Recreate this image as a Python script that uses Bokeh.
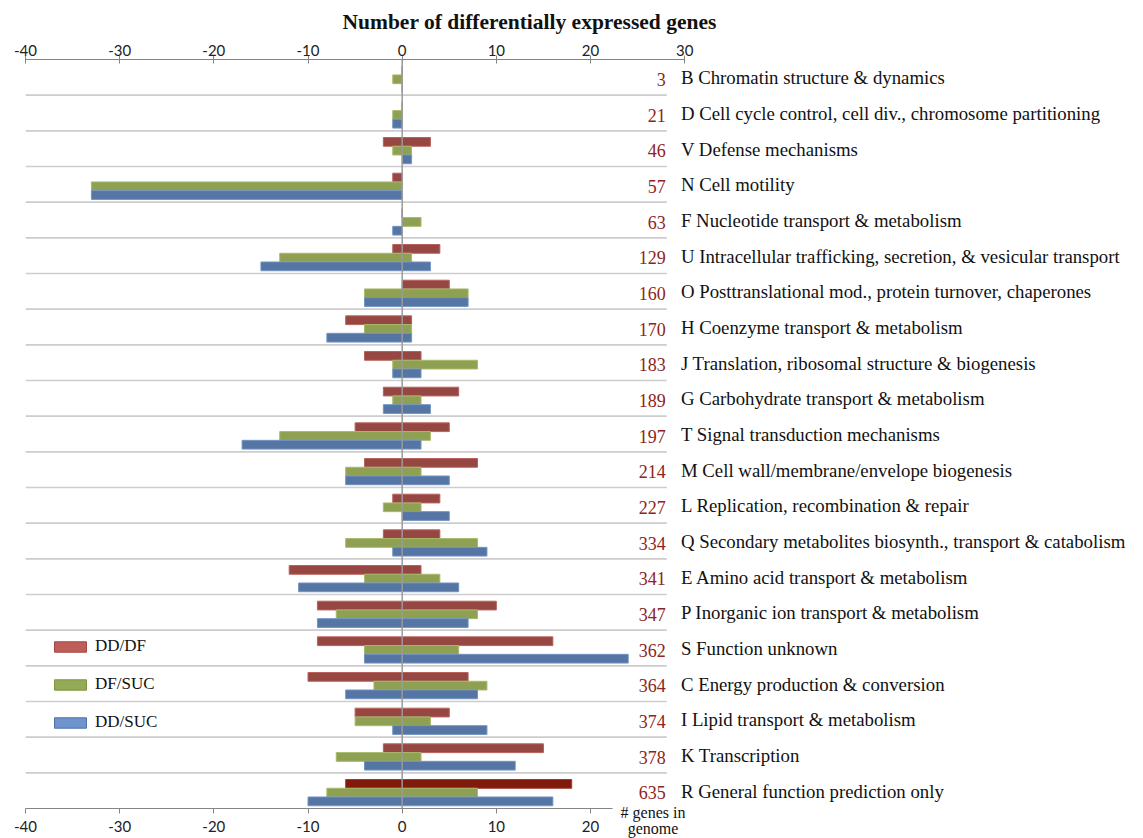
from bokeh.plotting import figure
from bokeh.layouts import column
from bokeh.models import (ColumnDataSource, FactorRange, Range1d, LinearAxis, FixedTicker,
                          Span, Legend, LegendItem, Title, Div, PrintfTickFormatter)
from bokeh.transform import dodge
from bokeh.core.properties import value
from bokeh.embed import file_html
from bokeh.resources import INLINE

# ---------------- data ----------------
codes = ["B", "D", "V", "N", "F", "U", "O", "H", "J", "G", "T",
         "M", "L", "Q", "E", "P", "S", "C", "I", "K", "R"]
names = ["Chromatin structure & dynamics",
         "Cell cycle control, cell div., chromosome partitioning",
         "Defense mechanisms",
         "Cell motility",
         "Nucleotide transport & metabolism",
         "Intracellular trafficking, secretion, & vesicular transport",
         "Posttranslational mod., protein turnover, chaperones",
         "Coenzyme transport & metabolism",
         "Translation, ribosomal structure & biogenesis",
         "Carbohydrate transport & metabolism",
         "Signal transduction mechanisms",
         "Cell wall/membrane/envelope biogenesis",
         "Replication, recombination & repair",
         "Secondary metabolites biosynth., transport & catabolism",
         "Amino acid transport & metabolism",
         "Inorganic ion transport & metabolism",
         "Function unknown",
         "Energy production & conversion",
         "Lipid transport & metabolism",
         "Transcription",
         "General function prediction only"]
genes_in_genome = [3, 21, 46, 57, 63, 129, 160, 170, 183, 189, 197,
                   214, 227, 334, 341, 347, 362, 364, 374, 378, 635]

dd_df_down = [0, 0, -2, -1, 0, -1, 0, -6, -4, -2, -5, -4, -1, -2, -12, -9, -9, -10, -5, -2, -6]
dd_df_up = [0, 0, 3, 0, 0, 4, 5, 1, 2, 6, 5, 8, 4, 4, 2, 10, 16, 7, 5, 15, 18]
df_suc_down = [-1, -1, -1, -33, 0, -13, -4, -4, -1, -1, -13, -6, -2, -6, -4, -7, -4, -3, -5, -7, -8]
df_suc_up = [0, 0, 1, 0, 2, 1, 7, 1, 8, 2, 3, 2, 2, 8, 4, 8, 6, 9, 3, 2, 8]
dd_suc_down = [0, -1, 0, -33, -1, -15, -4, -8, -1, -2, -17, -6, 0, -1, -11, -9, -4, -6, -1, -4, -10]
dd_suc_up = [0, 0, 1, 0, 0, 3, 7, 1, 2, 3, 2, 5, 5, 9, 6, 7, 24, 8, 9, 12, 16]

series_names = ["DD/DF", "DF/SUC", "DD/SUC"]
x_ticks_top = [-40, -30, -20, -10, 0, 10, 20, 30]
x_ticks_bottom = [-40, -30, -20, -10, 0, 10, 20]
highlight_code = "R"
footnote = ["# genes in", "genome"]

# ---------------- styling ----------------
bar_fill = ["#974742", "#8ea052", "#5575a5"]
bar_line = ["#b9615c", "#a9ba6c", "#7393c2"]
highlight_fill = "#7f1a0c"
legend_fill = ["#bf5d59", "#95aa56", "#6f94cd"]
legend_line = ["#a24642", "#7f9440", "#4d70a6"]
serif = "Liberation Serif"
sans = "Lato"

labels = [f"{c} {n}" for c, n in zip(codes, names)]
dd_df_colors = [highlight_fill if c == highlight_code else bar_fill[0] for c in codes]
dd_df_lines = ["#a4382c" if c == highlight_code else bar_line[0] for c in codes]

src = ColumnDataSource(dict(
    cat=codes, label=labels, genes=[str(g) for g in genes_in_genome],
    dd_df_down=dd_df_down, dd_df_up=dd_df_up,
    df_suc_down=df_suc_down, df_suc_up=df_suc_up,
    dd_suc_down=dd_suc_down, dd_suc_up=dd_suc_up,
    dd_df_color=dd_df_colors, dd_df_line=dd_df_lines,
))
sep_src = ColumnDataSource(dict(cat=codes[1:]))

p = figure(width=1143, height=838,
           x_range=Range1d(-40, 78.72),
           y_range=FactorRange(factors=codes[::-1], range_padding=0, factor_padding=0),
           x_axis_location=None, y_axis_location=None,
           toolbar_location=None, output_backend="svg",
           min_border_left=25, min_border_right=0,
           min_border_top=58, min_border_bottom=30)
p.outline_line_color = None
p.xgrid.visible = False
p.ygrid.visible = False
p.background_fill_color = "white"

# row separators
p.segment(x0=-40, x1=28.1, y0=dodge("cat", 0.5, range=p.y_range),
          y1=dodge("cat", 0.5, range=p.y_range), source=sep_src,
          line_color="#cdcdcd", line_width=1.7)

bh = 0.245
offs = [0.19, -0.055, -0.30]
cols = [("dd_df_down", "dd_df_up"), ("df_suc_down", "df_suc_up"), ("dd_suc_down", "dd_suc_up")]
fills = ["dd_df_color", bar_fill[1], bar_fill[2]]
lines = ["dd_df_line", bar_line[1], bar_line[2]]
for i in range(3):
    p.hbar(y=dodge("cat", offs[i], range=p.y_range), left=cols[i][0], right=cols[i][1],
           height=bh, source=src, fill_color=fills[i], line_color=lines[i], line_width=1)

# zero line
p.add_layout(Span(location=0, dimension="height", line_color="#9a9a9a", line_width=1.5))

# gene counts and category labels
p.text(x=28.0, y=dodge("cat", -0.06, range=p.y_range), text="genes", source=src,
       text_align="right", text_baseline="middle", text_font=value(serif),
       text_font_size="18px", text_color="#8e2420")
p.text(x=29.6, y=dodge("cat", -0.01, range=p.y_range), text="label", source=src,
       text_align="left", text_baseline="middle", text_font=value(serif),
       text_font_size="18.8px", text_color="#111111")

# axes
top = LinearAxis(ticker=FixedTicker(ticks=x_ticks_top), bounds=(-40, 30))
bottom = LinearAxis(ticker=FixedTicker(ticks=x_ticks_bottom), bounds=(-40, 22.3))
for ax, tin, tout, so in ((top, 4, 4, 0), (bottom, 0, 5, 7)):
    ax.formatter = PrintfTickFormatter(format="%d")
    ax.axis_line_color = "#858585"
    ax.axis_line_width = 1.2
    ax.major_tick_line_color = "#858585"
    ax.major_tick_in = tin
    ax.major_tick_out = tout
    ax.minor_tick_line_color = None
    ax.major_label_text_font = sans
    ax.major_label_text_font_size = "15px"
    ax.major_label_text_color = "#222222"
    ax.major_label_standoff = so
p.add_layout(top, "above")
p.add_layout(bottom, "below")

title = Title(text="Number of differentially expressed genes", align="left", offset=317,
              text_font=serif, text_font_size="21.5px", text_font_style="bold",
              text_color="#111111", standoff=15)
p.add_layout(title, "above")

# legend (swatches lighter than bars, as in reference); proxies are hidden copies
items = []
for i, nm in enumerate(series_names):
    r = p.hbar(y=dodge("cat", offs[i], range=p.y_range), left=cols[i][0], right=cols[i][1],
               height=bh, source=src, fill_color=legend_fill[i],
               line_color=legend_line[i], line_width=1, visible=False)
    items.append(LegendItem(label=nm, renderers=[r], index=0))
legend = Legend(items=items, location=(25, 76), padding=0, margin=0, spacing=18,
                glyph_width=40, glyph_height=13, label_standoff=5, label_height=20,
                label_text_font=serif, label_text_font_size="17px",
                label_text_color="#111111", background_fill_alpha=0, border_line_alpha=0,
                click_policy="none", inactive_fill_alpha=0)
p.add_layout(legend)

# "# genes in genome" note under the count column, laid over the plot's bottom border
font_rules = ("font-family: 'Liberation Serif', serif !important; "
              "font-size: 16px !important; line-height: 16px !important; "
              "color: #111111 !important; text-align: center !important; "
              "white-space: nowrap !important;")
css = ":host { " + font_rules + " } div, p, span { " + font_rules + " }"
note = Div(text="<br>".join(footnote), width=96, height=33,
           margin=(-33, 0, 0, 605), stylesheets=[css])

layout = column(p, note, spacing=0)
open("out.html", "w").write(file_html(layout, INLINE))
